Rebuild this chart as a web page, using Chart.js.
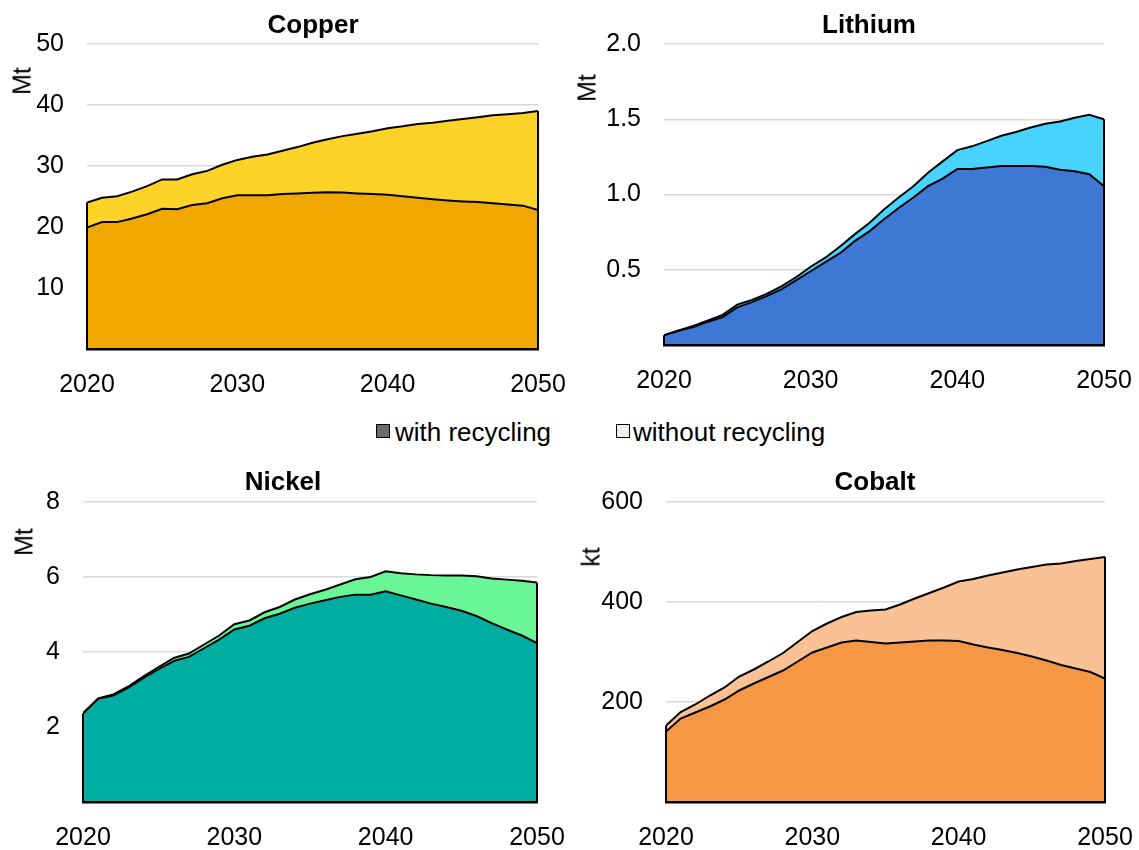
<!DOCTYPE html>
<html>
<head>
<meta charset="utf-8">
<script src="https://cdn.jsdelivr.net/npm/chart.js@4.4.1/dist/chart.umd.min.js"></script>
<style>
  body { margin: 0; background: #fff; font-family: "Liberation Sans", Arial, sans-serif; color: #000; }
  #wrap { position: relative; width: 1139px; height: 850px; overflow: hidden; }
  canvas { position: absolute; }
  .title { position: absolute; font-weight: bold; font-size: 26px; line-height: 26px; transform: translateX(-50%); white-space: nowrap; }
  .unit { position: absolute; font-size: 25px; line-height: 25px; transform: translate(-50%, -50%) rotate(-90deg); white-space: nowrap; }
  .leg { position: absolute; font-size: 26px; line-height: 26px; white-space: nowrap; }
  .box { position: absolute; width: 12px; height: 12px; border: 1px solid #000; }
</style>
</head>
<body>
<div id="wrap">
  <canvas id="copper" width="570" height="400" style="left:0;top:0"></canvas>
  <canvas id="lithium" width="569" height="400" style="left:570px;top:0"></canvas>
  <canvas id="nickel" width="570" height="395" style="left:0;top:455px"></canvas>
  <canvas id="cobalt" width="569" height="395" style="left:570px;top:455px"></canvas>

  <div class="title" style="left:313px;top:11px">Copper</div>
  <div class="title" style="left:869px;top:11px">Lithium</div>
  <div class="title" style="left:283px;top:468px">Nickel</div>
  <div class="title" style="left:875px;top:468px">Cobalt</div>

  <div class="unit" style="left:22px;top:81px">Mt</div>
  <div class="unit" style="left:587px;top:88px">Mt</div>
  <div class="unit" style="left:24px;top:542px">Mt</div>
  <div class="unit" style="left:591px;top:557px">kt</div>

  <div class="box" style="left:376px;top:424px;background:#6b6b6b"></div>
  <div class="leg" style="left:395px;top:419px">with recycling</div>
  <div class="box" style="left:616px;top:424px;background:#eeeee4"></div>
  <div class="leg" style="left:633px;top:419px">without recycling</div>
</div>
<script>
// years on the x axis
const years = [2020, 2021, 2022, 2023, 2024, 2025, 2026, 2027, 2028, 2029,
  2030, 2031, 2032, 2033, 2034, 2035, 2036, 2037, 2038, 2039,
  2040, 2041, 2042, 2043, 2044, 2045, 2046, 2047, 2048, 2049, 2050];
const xTicks = [2020, 2030, 2040, 2050];

// Copper, Mt
const copperWith = [19.9, 20.8, 20.8, 21.4, 22.1, 23.0, 22.9, 23.6, 23.9, 24.7, 25.2, 25.2, 25.2, 25.4, 25.5, 25.6,
  25.7, 25.65, 25.5, 25.4, 25.3, 25.05, 24.8, 24.55, 24.35, 24.2, 24.1, 23.9, 23.7, 23.5, 22.8];
const copperWithout = [24.0, 24.8, 25.05, 25.8, 26.7, 27.8, 27.8, 28.65, 29.2, 30.2, 31.0, 31.5, 31.9, 32.5, 33.1,
  33.8, 34.4, 34.9, 35.3, 35.7, 36.2, 36.5, 36.9, 37.1, 37.4, 37.7, 38.0, 38.3, 38.5, 38.7, 39.0];

// Lithium, Mt
const lithiumWith = [0.064, 0.095, 0.12, 0.155, 0.185, 0.25, 0.285, 0.325, 0.37, 0.43, 0.49, 0.55, 0.61, 0.69,
  0.755, 0.835, 0.91, 0.98, 1.055, 1.105, 1.17, 1.17, 1.18, 1.19, 1.19, 1.19, 1.185, 1.165, 1.155, 1.135, 1.055];
const lithiumWithout = [0.064, 0.097, 0.126, 0.164, 0.2, 0.268, 0.3, 0.34, 0.39, 0.45, 0.52, 0.58, 0.655, 0.735,
  0.81, 0.9, 0.98, 1.055, 1.145, 1.22, 1.295, 1.32, 1.355, 1.39, 1.415, 1.445, 1.47, 1.485, 1.51, 1.53, 1.5];

// Nickel, Mt
const nickelWith = [2.36, 2.75, 2.84, 3.05, 3.31, 3.54, 3.76, 3.87, 4.1, 4.33, 4.6, 4.7, 4.9, 5.02, 5.18, 5.29,
  5.38, 5.47, 5.53, 5.53, 5.62, 5.51, 5.4, 5.29, 5.2, 5.1, 4.96, 4.77, 4.6, 4.44, 4.24];
const nickelWithout = [2.36, 2.76, 2.87, 3.08, 3.35, 3.6, 3.84, 3.96, 4.2, 4.44, 4.74, 4.84, 5.06, 5.2, 5.4, 5.54,
  5.66, 5.8, 5.94, 6.0, 6.15, 6.1, 6.07, 6.05, 6.04, 6.04, 6.02, 5.96, 5.93, 5.9, 5.85];

// Cobalt, kt
const cobaltWith = [141, 167, 179, 191, 205, 223, 237, 250, 263, 281, 299, 309, 319, 323, 320, 317, 319, 321,
  323, 323, 322, 315, 309, 304, 298, 291, 283, 274, 267, 260, 247];
const cobaltWithout = [153, 180, 195, 213, 229, 251, 265, 281, 298, 320, 342, 357, 370, 380, 383, 385, 395, 407,
  418, 429, 441, 446, 453, 459, 465, 470, 475, 477, 482, 486, 490];

// y axis ticks
const copperTicks = [10, 20, 30, 40, 50];
const lithiumTicks = [0.5, 1.0, 1.5, 2.0];
const nickelTicks = [2, 4, 6, 8];
const cobaltTicks = [200, 400, 600];

Chart.defaults.font.family = "'Liberation Sans', Arial, sans-serif";
Chart.defaults.font.size = 25;
Chart.defaults.color = '#000';

// black outline on the left and right ends of the areas
const edgePlugin = {
  id: 'edges',
  afterDatasetsDraw(chart) {
    const x = chart.scales.x, y = chart.scales.y, ctx = chart.ctx;
    const a = chart.data.datasets[0].data, b = chart.data.datasets[1].data;
    ctx.save();
    ctx.strokeStyle = '#000';
    ctx.lineWidth = 2;
    [0, years.length - 1].forEach(i => {
      const px = x.getPixelForValue(years[i]);
      ctx.beginPath();
      ctx.moveTo(px, y.getPixelForValue(0));
      ctx.lineTo(px, y.getPixelForValue(Math.max(a[i], b[i])));
      ctx.stroke();
    });
    ctx.restore();
  }
};

function makeChart(id, withData, withoutData, colWith, colWithout, ticks, decimals, box) {
  const step = ticks[1] - ticks[0];
  new Chart(document.getElementById(id), {
    type: 'line',
    data: {
      labels: years,
      datasets: [
        { label: 'with recycling', data: withData, backgroundColor: colWith, fill: 'origin',
          borderColor: '#000', borderWidth: 2, pointRadius: 0, tension: 0 },
        { label: 'without recycling', data: withoutData, backgroundColor: colWithout, fill: 'origin',
          borderColor: '#000', borderWidth: 2, pointRadius: 0, tension: 0 }
      ]
    },
    options: {
      responsive: false,
      animation: false,
      devicePixelRatio: 1,
      layout: { padding: { top: box.top, right: box.right, bottom: 0, left: 0 } },
      plugins: { legend: { display: false }, tooltip: { enabled: false } },
      scales: {
        x: {
          type: 'linear',
          min: years[0],
          max: years[years.length - 1],
          afterFit: s => { s.height = box.xh; s.paddingLeft = 0; s.paddingRight = 0; },
          afterBuildTicks: s => { s.ticks = xTicks.map(v => ({ value: v })); },
          ticks: { maxRotation: 0, padding: 21, callback: v => String(v) },
          grid: { display: false, drawTicks: false },
          border: { display: true, color: '#000', width: 2.5, z: 1 }
        },
        y: {
          min: 0,
          max: ticks[ticks.length - 1],
          afterFit: s => { s.width = box.yw; s.paddingTop = 0; s.paddingBottom = 0; },
          ticks: {
            stepSize: step,
            padding: 23,
            callback: v => ticks.some(t => Math.abs(t - v) < 1e-9) ? v.toFixed(decimals) : ''
          },
          grid: { color: '#d9d9d9', lineWidth: 1.5, drawTicks: false },
          border: { display: false }
        }
      }
    },
    plugins: [edgePlugin]
  });
}

makeChart('copper', copperWith, copperWithout, '#f0a800', '#fdd327', copperTicks, 0,
  { top: 44, right: 32, yw: 87, xh: 51 });
makeChart('lithium', lithiumWith, lithiumWithout, '#3f78d4', '#48d3ff', lithiumTicks, 1,
  { top: 44, right: 35, yw: 94, xh: 55 });
makeChart('nickel', nickelWith, nickelWithout, '#00aea1', '#6af596', nickelTicks, 0,
  { top: 47, right: 33, yw: 83, xh: 48 });
makeChart('cobalt', cobaltWith, cobaltWithout, '#f69746', '#f9c194', cobaltTicks, 0,
  { top: 47, right: 34, yw: 96, xh: 48 });
</script>
</body>
</html>
